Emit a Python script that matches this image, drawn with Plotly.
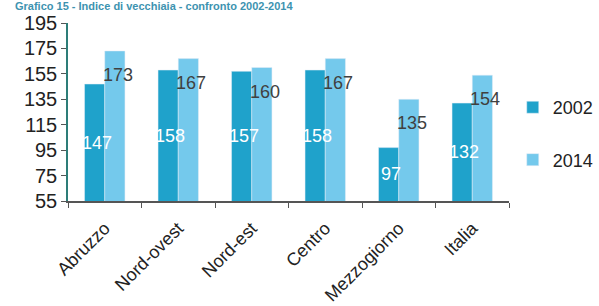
import plotly.graph_objects as go

categories = ["Abruzzo", "Nord-ovest", "Nord-est", "Centro", "Mezzogiorno", "Italia"]
values_2002 = [147, 158, 157, 158, 97, 132]
values_2014 = [173, 167, 160, 167, 135, 154]
y_ticks = [55, 75, 95, 115, 135, 155, 175, 195]
y_min, y_max = 55, 195

c2002 = "#1fa2cb"
c2014 = "#74c9ec"
font_family = "Liberation Sans, Arial, sans-serif"

fig = go.Figure()
fig.add_trace(go.Bar(name="2002", x=categories, y=values_2002, marker_color=c2002,
                     legendgroup="a"))
fig.add_trace(go.Bar(name="2014", x=categories, y=values_2014, marker_color=c2014,
                     legendgroup="b"))

# data labels
for cat, v in zip(categories, values_2002):
    fig.add_annotation(x=cat, y=(y_min + v) / 2, text=str(v), showarrow=False,
                       xshift=-8, font=dict(color="white", size=18, family=font_family))
for cat, v in zip(categories, values_2014):
    fig.add_annotation(x=cat, y=v, text=str(v), showarrow=False, xshift=13,
                       yshift=-24, font=dict(color="#404040", size=18, family=font_family))

fig.update_layout(
    width=599, height=306,
    margin=dict(l=68, r=90, t=23, b=105),
    paper_bgcolor="white", plot_bgcolor="white",
    barmode="group", bargap=0.45, bargroupgap=0,
    font=dict(family=font_family, size=18, color="#222222"),
    title=dict(text="<b>Grafico 15 - Indice di vecchiaia - confronto 2002-2014</b>",
               x=0.025, xanchor="left", y=0.994, yanchor="top", yref="container",
               font=dict(size=11, color="#3d93b0", family=font_family)),
    legend=dict(xref="container", yref="container", x=0.856, y=0.709,
                xanchor="left", yanchor="top",
                tracegroupgap=26, font=dict(size=18, color="#222222"),
                bgcolor="rgba(0,0,0,0)"),
    showlegend=True,
)
fig.update_xaxes(
    type="category", showline=True, linecolor="#555555", linewidth=1.5,
    ticks="outside", tickson="boundaries", ticklen=5, tickcolor="#555555",
    tickangle=-45, tickfont=dict(size=18, color="#222222"), showgrid=False,
    ticklabelstandoff=8, automargin=False,
)
fig.update_yaxes(
    range=[y_min, y_max], tickvals=y_ticks, showline=True, linecolor="#2d7d78",
    linewidth=1.5, ticks="outside", ticklen=5, tickcolor="#555555",
    tickfont=dict(size=20, color="#222222"), showgrid=False, zeroline=False,
    automargin=False,
)

fig.write_html("out.html", config={"displayModeBar": False},
               post_script="document.body.style.margin='0';")
